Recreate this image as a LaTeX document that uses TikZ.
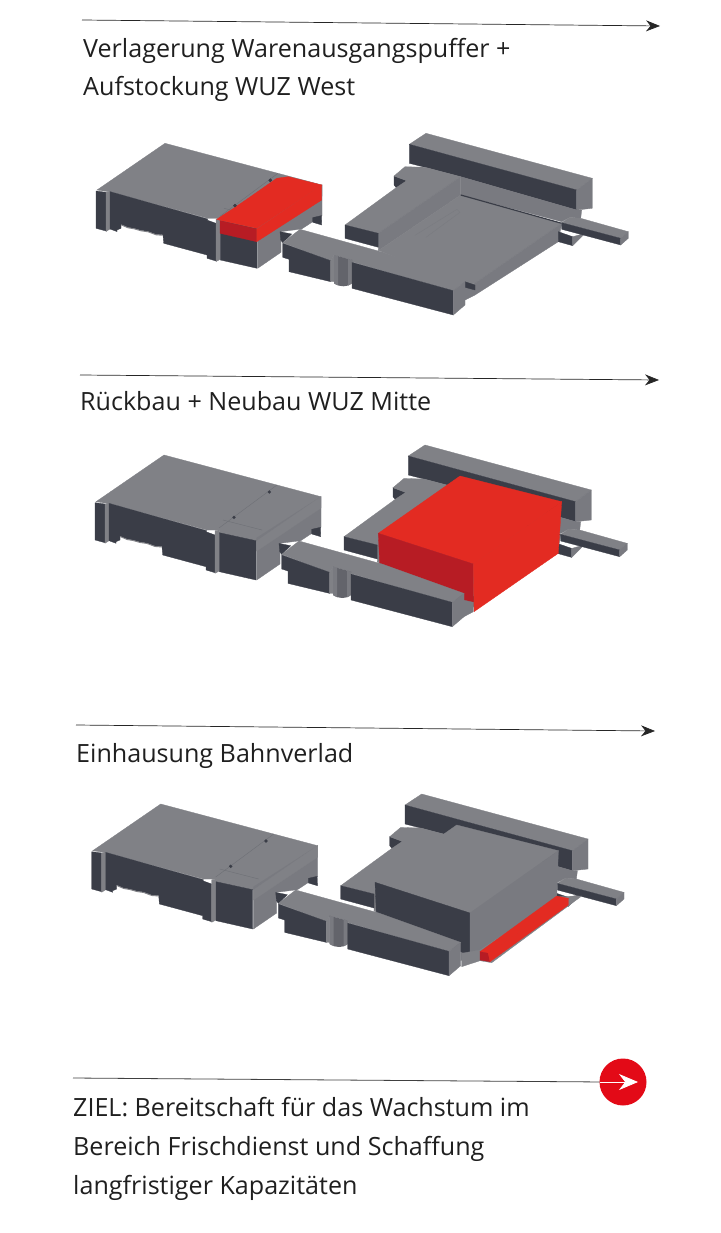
\documentclass[tikz,border=0pt]{standalone}
\usepackage{fontspec}
\setmainfont{Open Sans}
\usetikzlibrary{arrows.meta}
\definecolor{bgtop}{HTML}{808186}
\definecolor{bgside}{HTML}{797A80}
\definecolor{bgdark}{HTML}{3A3D47}
\definecolor{bgcyl}{HTML}{63646B}
\definecolor{bgred}{HTML}{E32B22}
\definecolor{bgredd}{HTML}{B71C24}
\definecolor{bgcirc}{HTML}{E30A17}
\tikzset{
	bltop/.style={fill=bgtop,draw=bgtop,line width=.3pt},
	blside/.style={fill=bgside,draw=bgside,line width=.3pt},
	bldark/.style={fill=bgdark,draw=bgdark,line width=.3pt},
	rdtop/.style={fill=bgred,draw=bgred,line width=.3pt},
	rdfront/.style={fill=bgredd,draw=bgredd,line width=.3pt},
	seam/.style={draw=bgdark!25!bgtop,line width=.4pt},
	label/.style={anchor=base west,inner sep=0pt,align=left,font=\fontsize{25.1}{38.7}\selectfont,text=black!88},
	leadline/.style={draw=black!85,line width=.7pt,-{Stealth[length=14pt,width=11pt]}}
}
\newcommand{\westblock}{
	\fill[bltop] (164,455) -- (321,496.7) -- (256.7,541) -- (219.3,533) -- (219.3,530) -- (206.7,530) -- (109.3,503.3) -- (105,503) -- (96,501.7) -- cycle;
	\fill[blside] (256.7,538) -- (321,496.7) -- (321,527.3) -- (300.7,540.7) -- (280,543.3) -- (280,564) -- (256.7,580) -- cycle;
	\fill[bltop] (256.7,541) -- (321,496.7) -- (321,508) -- (256.7,551) -- cycle;
	\fill[bldark] (311.7,529.3) -- (320.5,527.3) -- (320.7,536.7) -- (311.7,534) -- cycle;
	\fill[bldark] (95,502.7) -- (105,504) -- (105,542.7) -- (95,540) -- cycle;
	\fill[bltop] (105,504) -- (109,502.7) -- (109,540.7) -- (105,543.3) -- cycle;
	\fill[bldark] (109,503.3) -- (206.7,530.7) -- (206.7,532) -- (215,535) -- (215,572.7) -- (206,570) -- (206,566.7) -- (162.7,555) -- (162,546.5) -- (155,546) -- (147,543) -- (140,542) -- (133,540) -- (127,539) -- (120,536) -- (120,540) -- (116,541.7) -- (116,543.3) -- (109,540.7) -- cycle;
	\draw[bgtop,line width=.9pt] (120,536.5) -- (127,539.5) -- (133,540.5) -- (140,542.5) -- (147,543.5) -- (155,546.5) -- (162,547);
	\fill[bltop] (215,530.7) -- (219.3,530) -- (219.3,571) -- (215,573.3) -- cycle;
	\fill[bldark] (219.3,532.7) -- (256,540.7) -- (256,580) -- (219.3,571.7) -- cycle;
	\draw[seam] (277,485) -- (219,528);
	\draw[seam] (223,520) -- (262,530);
	\fill[bgdark] (269.3,492) circle (1.8);
	\fill[bgdark] (234,517.3) circle (1.8);
}
\newcommand{\eastblock}{
	\fill[bltop] (408.3,456) -- (425,445) -- (591.3,490) -- (575.7,501.7) -- cycle;
	\fill[bldark] (408.3,456) -- (575.7,501.7) -- (575.7,521.7) -- (459.7,488.4) -- (424,479) -- (408.3,475) -- cycle;
	\fill[blside] (575.7,501.7) -- (591.3,490) -- (591.3,520) -- (575.7,521.7) -- cycle;
	\fill[blside] (459.7,488.4) -- (575.7,521.7) -- (580.7,521.7) -- (579.7,530) -- (569,529) -- (560.7,533.4) -- (459.7,506.7) -- cycle;
	\fill[bldark] (393,487.7) -- (405.7,492.4) -- (395.7,500) -- (393,496.7) -- cycle;
	\fill[bltop] (344,536.7) -- (395.7,499) -- (405.7,492.4) -- (393,487.7) -- (404,478.4) -- (424,479) -- (459.7,488.4) -- (377.3,545) -- cycle;
	\fill[blside] (377.3,545) -- (459.7,488.4) -- (459.7,506.7) -- (382.3,559) -- (377.3,562) -- cycle;
	\fill[bldark] (344,536.7) -- (377.3,545) -- (377.3,559) -- (344,550) -- cycle;
	\fill[bltop] (377.3,562) -- (382.3,559) -- (459.7,506.7) -- (560.7,535) -- (474,595) -- (464,597) -- cycle;
	\draw[bgdark,line width=1.2pt] (459.7,506.7) -- (560.7,535);
	\draw[seam,draw opacity=.35] (414,547) -- (456,521) -- (459,524) -- (425,549);
	\fill[blside] (474,595) -- (560.7,535) -- (557.3,553.4) -- (474,606.7) -- (464,611.7) -- (464,599) -- cycle;
	\fill[bldark] (464,593.4) -- (474,596.7) -- (474,601.7) -- (464,599) -- cycle;
	\fill[bldark] (557.3,543.4) -- (571.7,548.4) -- (571.7,557.4) -- (557.3,553.4) -- cycle;
	\fill[blside] (571.7,548.4) -- (584,545) -- (571.7,557.4) -- cycle;
	\fill[bltop] (569,529) -- (579.7,530) -- (627.3,543.4) -- (619.7,550) -- (560.7,534.4) -- cycle;
	\fill[bldark] (560.7,534.4) -- (619.7,550) -- (619.7,556.7) -- (560.7,541) -- cycle;
	\fill[blside] (619.7,550) -- (627.3,543.4) -- (627.3,550) -- (619.7,556.7) -- cycle;
}
\newcommand{\wingblock}{
	\fill[bldark] (279,543.4) -- (290.7,545.7) -- (281.7,554.4) -- (279.7,551.7) -- cycle;
	\fill[bltop] (281.7,554.4) -- (299,541) -- (382,564) -- (464,593.4) -- (452.3,602.4) -- (350.7,573.4) -- (350.7,571.7) -- (333,566.7) -- (329.7,572.4) -- cycle;
	\fill[bldark] (281.7,555) -- (329.7,572.4) -- (329.7,593.4) -- (288,583.4) -- (288,571) -- (281.7,569) -- cycle;
	\fill[bltop] (329.7,572.4) -- (333,566.7) -- (333,593.4) -- (329.7,593.4) -- cycle;
	\fill[bgcyl] (333,566.7) -- (351,571.7) -- (351,595) .. controls (347,599) and (338,599) .. (333,595) -- cycle;
	\fill[bgside] (333,566.7) -- (337,567.8) -- (337,597) .. controls (335.5,596.5) and (334,596) .. (333,595) -- cycle;
	\fill[bgside] (347,570.6) -- (351,571.7) -- (351,595) .. controls (350,596) and (348.5,596.8) .. (347,597.2) -- cycle;
	\fill[bldark] (351,574) -- (452.3,602.4) -- (452.3,626.7) -- (351,600) -- cycle;
	\fill[blside] (452.3,602.4) -- (464,593.4) -- (464,616.7) -- (452.3,626.7) -- cycle;
}
\newcommand{\bigblock}[2]{
	\fill[#1] (378.3,533.3) -- (460,476) -- (561.7,501.7) -- (473.3,564) -- cycle;
	\fill[#2] (378.3,533.3) -- (473.3,564) -- (473.3,606) -- (380,572) -- cycle;
}
\begin{document}
\begin{tikzpicture}[x=1pt,y=-1pt]
	\useasboundingbox (0,0) rectangle (720,1233);
	
	\coordinate (as) at (82,20);
	\coordinate (ae) at (660,26);
	\draw[leadline] (as) -- (ae);
	\node[label] (ta) at (83,96) {Verlagerung Warenausgangspuffer +\\Aufstockung WUZ West};
	
	\coordinate (bs) at (80,375);
	\coordinate (be) at (659,380);
	\draw[leadline] (bs) -- (be);
	\node[label] (tb) at (80,410) {Rückbau + Neubau WUZ Mitte};
	
	\coordinate (cs) at (76,725);
	\coordinate (ce) at (655,731);
	\draw[leadline] (cs) -- (ce);
	\node[label] (tc) at (76,762) {Einhausung Bahnverlad};
	
	\begin{scope}[xshift=1pt,yshift=311.7pt]
		\westblock
		\fill[rdtop] (215.7,531) -- (234,519) -- (245.7,511) -- (275.7,490) -- (287.3,488.4) -- (320.7,496.7) -- (255.7,540) -- (219,532) -- cycle;
		\fill[rdfront] (219,532.4) -- (255.7,540.7) -- (255.7,553.4) -- (219,545) -- cycle;
		\fill[rdtop] (255.7,540.7) -- (320.7,496.7) -- (320.7,511.7) -- (255.7,553.4) -- cycle;
		\fill[bgdark] (269.3,492) circle (1.8);
		\fill[bgdark] (234,517.3) circle (1.8);
		\eastblock
		\wingblock
	\end{scope}
	
	\begin{scope}
		\westblock
		\eastblock
		\bigblock{rdtop}{rdfront}
		\fill[rdtop] (473.3,564) -- (561.7,501.7) -- (558.3,553.3) -- (474,611.7) -- cycle;
		\fill[blside] (463.3,600) -- (473.3,602.3) -- (473.3,611.7) -- (464,616.7) -- cycle;
		\wingblock
	\end{scope}
	
	\begin{scope}[xshift=-3.3pt,yshift=-349pt]
		\westblock
		\eastblock
		\bigblock{bltop}{bldark}
		\fill[blside] (473.3,564) -- (561.7,501.7) -- (560,547.7) -- (483.3,601) -- (473.3,604) -- cycle;
		\fill[bltop] (465,604.3) -- (483.3,601) -- (563.3,547.7) -- (585,547) -- (495,613.7) -- (483.3,611.7) -- (465,617.7) -- cycle;
		\fill[rdtop] (483.3,602.7) -- (560,547) -- (571.6,549.3) -- (491.6,604.3) -- cycle;
		\fill[rdfront] (483.3,602.7) -- (491.6,604.3) -- (493.3,612.7) -- (483.3,611) -- cycle;
		\fill[rdtop] (491.6,604.3) -- (571.6,549.3) -- (571.6,556) -- (493.3,612.7) -- cycle;
		\wingblock
	\end{scope}
	
	\coordinate (ds) at (73,1078);
	\coordinate (de) at (605,1082);
	\draw[draw=black!75,line width=.8pt] (ds) -- (de);
	\node[circle,fill=bgcirc,minimum size=47pt,inner sep=0pt] (goal) at (623,1082) {};
	\coordinate (gs) at (600,1082);
	\coordinate (ge) at (638,1082);
	\draw[draw=white,line width=.8pt,-{Stealth[length=19pt,width=16pt]}] (gs) -- (ge);
	\node[label] (td) at (73,1194) {ZIEL: Bereitschaft für das Wachstum im\\Bereich Frischdienst und Schaffung\\langfristiger Kapazitäten};
\end{tikzpicture}
\end{document}
